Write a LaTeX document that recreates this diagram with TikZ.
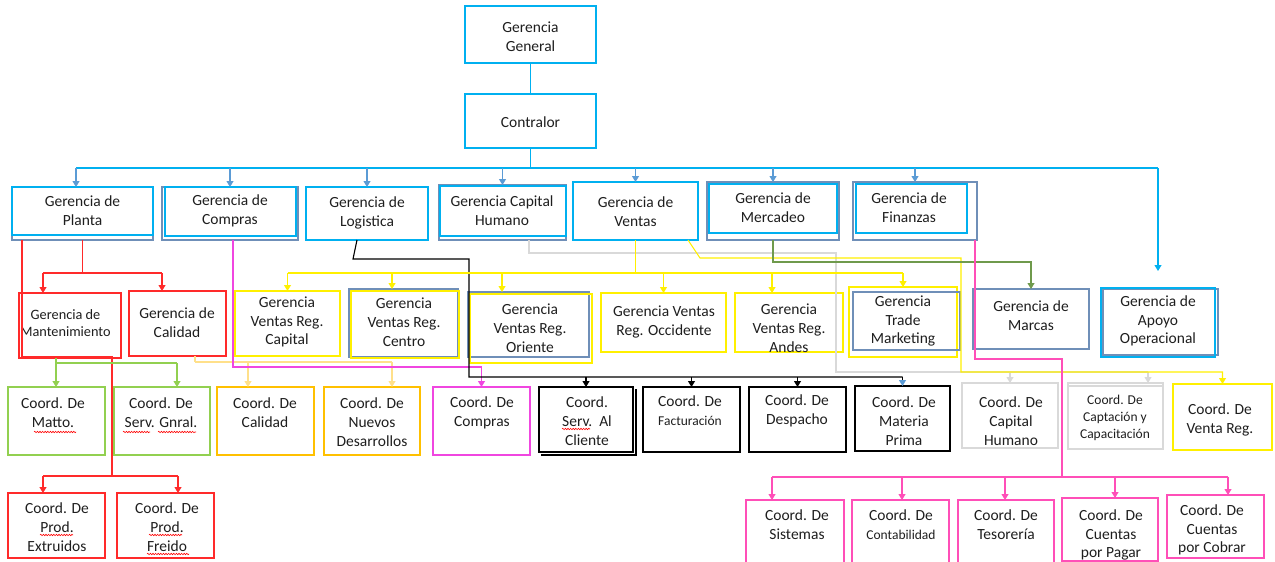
\documentclass[tikz,border=0pt]{standalone}
\usepackage{fontspec}
\setmainfont{Carlito}
\usetikzlibrary{arrows.meta,decorations.pathmorphing}
\definecolor{lb}{HTML}{00B0F0}
\definecolor{sb}{HTML}{6F8FB8}
\definecolor{db}{HTML}{5B9BD5}
\definecolor{rd}{HTML}{FF2A2A}
\definecolor{gr}{HTML}{92D050}
\definecolor{org}{HTML}{FFC000}
\definecolor{orl}{HTML}{FFE08A}
\definecolor{mg}{HTML}{F046E0}
\definecolor{pk}{HTML}{FF4FB8}
\definecolor{yl}{HTML}{FFF000}
\definecolor{lg}{HTML}{D9D9D9}
\definecolor{dg}{HTML}{6F9A4C}
\definecolor{tx}{HTML}{1E1E1E}
\newcommand\bx[6]{\node[box,draw=#6,anchor=north west,minimum width={(#4)-(#2)},minimum height={(#5)-(#3)}] (#1) at (#2,#3) {};}
\begin{document}
\begin{tikzpicture}[x=1pt,y=-1pt,
 box/.style={inner sep=0pt,outer sep=0pt,line width=1.2pt},
 txt/.style={inner sep=0pt,align=center,text=tx,font=\fontsize{15.5}{18.8}\selectfont},
 smt/.style={font=\fontsize{14.3}{17.5}\selectfont},
 ln/.style={line width=1.1pt},
 arr/.style={-{Triangle[width=7pt,length=6pt]}},
 wavy/.style={draw=red,line width=0.6pt,decorate,decoration={snake,amplitude=0.7pt,segment length=2.6pt}}]
\useasboundingbox (0,0) rectangle (1275,562);
% ---- boxes ----
\bx{gg}{465}{6}{596}{63}{lb}
\bx{ctr}{465}{94}{596}{148}{lb}
\bx{planta}{12}{187}{153}{240}{sb}
\bx{plantaI}{12}{187}{153}{235}{lb}
\bx{compras}{162}{187}{298}{240}{sb}
\bx{comprasI}{165}{187}{296}{236}{lb}
\bx{logistica}{306}{187}{428}{240}{lb}
\bx{caph}{439}{185}{566}{240}{sb}
\bx{caphI}{440}{186}{566}{236}{lb}
\bx{ventas}{573}{182}{698}{240}{lb}
\bx{mercadeo}{707}{182}{839}{240}{sb}
\bx{mercadeoI}{709}{184}{837}{233}{lb}
\bx{finanzas}{853}{182}{977}{240}{sb}
\bx{finanzasI}{856}{184}{967}{233}{lb}
%
\bx{mant}{19}{293}{121}{358}{rd}
\bx{calidadG}{129}{291}{226}{356}{rd}
\bx{capital}{235}{291}{340}{356}{yl}
\bx{centro}{349}{289}{458}{357}{sb}
\bx{centroY}{351}{291}{459}{358}{yl}
\bx{oriente}{468}{292}{589}{357}{sb}
\bx{orienteY}{470}{294}{592}{363}{yl}
\bx{occidente}{601}{293}{726}{352}{yl}
\bx{andes}{735}{293}{843}{352}{yl}
\bx{trade}{849}{287}{957}{357}{yl}
\bx{tradeB}{853}{292}{960}{350}{sb}
\bx{marcas}{973}{289}{1089}{349}{sb}
\bx{apoyoB}{1103}{289}{1218}{355}{sb}
\bx{apoyo}{1101}{288}{1215}{357}{lb}
%
\bx{matto}{8}{387}{105}{455}{gr}
\bx{serv}{114}{387}{210}{455}{gr}
\bx{calC}{217}{387}{314}{455}{org}
\bx{nuevos}{324}{387}{420}{455}{org}
\bx{comprasC}{433}{387}{530}{455}{mg}
\bx{cliente}{539}{387}{633}{452}{black}
\draw[line width=1.2pt] ([xshift=2,yshift=-3]cliente.south west) -| ([xshift=3,yshift=-2]cliente.north east);
\bx{fact}{643}{387}{740}{452}{black}
\bx{despacho}{749}{387}{846}{452}{black}
\bx{materia}{855}{386}{950}{451}{black}
\bx{caphC}{962}{383}{1058}{448}{lg}
\bx{captC}{1068}{383}{1163}{449}{lg}
\draw[line width=1.2pt,lg] ([yshift=-3]captC.north west) -- ([yshift=-3]captC.north east);
\bx{ventaRegC}{1173}{384}{1272}{450}{yl}
%
\bx{extr}{8}{493}{105}{558}{rd}
\bx{freido}{117}{493}{214}{558}{rd}
\bx{sist}{746}{500}{844}{566}{pk}
\bx{conta}{852}{500}{949}{566}{pk}
\bx{teso}{958}{500}{1054}{566}{pk}
\bx{pagar}{1062}{498}{1158}{561}{pk}
\bx{cobrar}{1167}{495}{1264}{558}{pk}
% ---- texts ----
\node[txt] (ggt) at (530.5,37) {Gerencia\\General};
\node[txt] (ctrt) at (530.5,122) {Contralor};
\node[txt] (plantat) at (82.5,211) {Gerencia de\\Planta};
\node[txt] (comprast) at (230,211) {Gerencia de\\Compras};
\node[txt] (logt) at (367,213) {Gerencia de\\Logistica};
\node[txt] (capht) at (502,211) {Gerencia Capital\\Humano};
\node[txt] (ventast) at (635.5,212) {Gerencia de\\Ventas};
\node[txt] (mercadeot) at (773,208) {Gerencia de\\Mercadeo};
\node[txt] (finanzast) at (909,208) {Gerencia de\\Finanzas};
\node[txt,smt] (mantt) at (65.5,323) {Gerencia de\\Mantenimiento};
\node[txt] (calidadGt) at (177,323) {Gerencia de\\Calidad};
\node[txt] (capitalt) at (287,322) {Gerencia\\Ventas Reg.\\Capital};
\node[txt] (centrot) at (404,322) {Gerencia\\Ventas Reg.\\Centro};
\node[txt] (orientet) at (530,328) {Gerencia\\Ventas Reg.\\Oriente};
\node[txt] (occidentet) at (664,322) {Gerencia Ventas\\Reg. Occidente};
\node[txt] (andest) at (789,328) {Gerencia\\Ventas Reg.\\Andes};
\node[txt] (tradet) at (903,321) {Gerencia\\Trade\\Marketing};
\node[txt] (marcast) at (1031,316) {Gerencia de\\Marcas};
\node[txt] (apoyot) at (1158,321) {Gerencia de\\Apoyo\\Operacional};
\node[txt] (mattot) at (53,413) {Coord. De\\Matto.};
\node[txt] (servt) at (161,413) {Coord. De\\Serv. Gnral.};
\node[txt] (calCt) at (265,413) {Coord. De\\Calidad};
\node[txt] (nuevost) at (372,422) {Coord. De\\Nuevos\\Desarrollos};
\node[txt] (comprasCt) at (482,413) {Coord. De\\Compras};
\node[txt] (clientet) at (587,421) {Coord.\\Serv.\ \ Al\\Cliente};
\node[txt] (factt) at (690,411) {Coord. De\\{\fontsize{13.5}{16}\selectfont Facturación}};
\node[txt] (despachot) at (797,411) {Coord. De\\Despacho};
\node[txt] (materiat) at (904,421) {Coord. De\\Materia\\Prima};
\node[txt] (caphCt) at (1011,421) {Coord. De\\Capital\\Humano};
\node[txt,font=\fontsize{13.5}{17}\selectfont] (captCt) at (1115,418) {Coord. De\\Captación y\\Capacitación};
\node[txt] (ventaRegCt) at (1220,420) {Coord. De\\Venta Reg.};
\node[txt] (extrt) at (57,527) {Coord. De\\Prod.\\Extruidos};
\node[txt] (freidot) at (167,527) {Coord. De\\Prod.\\Freido};
\node[txt] (sistt) at (797,525) {Coord. De\\Sistemas};
\node[txt] (contat) at (901,525) {Coord. De\\{\fontsize{13.5}{16}\selectfont Contabilidad}};
\node[txt] (tesot) at (1006,525) {Coord. De\\Tesorería};
\node[txt] (pagart) at (1111,535) {Coord. De\\Cuentas\\por Pagar};
\node[txt] (cobrart) at (1212,530) {Coord. De\\Cuentas\\por Cobrar};
% spelling underlines
\draw[wavy] (34,432) -- (76,432);
\draw[wavy] (123,432) -- (150,432);
\draw[wavy] (158,432) -- (196,432);
\draw[wavy] (562,429) -- (590,429);
\draw[wavy] (40,535) -- (73,535);
\draw[wavy] (149,535) -- (182,535);
\draw[wavy] (147,554) -- (189,554);
% ---- connectors ----
\draw[ln,lb] (gg.south) -- (ctr.north);
\coordinate (busL) at (76,168);
\coordinate (busR) at (1158,168);
\draw[ln,lb] (ctr.south) -- (ctr.south |- busL);
\draw[ln,lb] (busL) -- (busR);
\draw[ln,db,arr] (busL) -- (planta.north -| busL);
\foreach \n in {compras,logistica,caph,ventas,mercadeo,finanzas}
  \draw[ln,db,arr] (\n.north |- busL) -- (\n.north);
\coordinate (apoyoTip) at (1158,271);
\draw[ln,lb,arr] (busR) -- (apoyoTip);
% red from planta
\coordinate (rj) at (112,357);
\coordinate (rk) at (112,476);
\draw[ln,rd] ([xshift=10]planta.south west) |- (rj) -- (rk);
\path ([xshift=-13.5]extr.north) coordinate (tExtr) ([xshift=12.5]freido.north) coordinate (tFreido);
\draw[ln,rd] (rk -| tExtr) -- (rk -| tFreido);
\draw[ln,rd,arr] (rk -| tExtr) -- (tExtr);
\draw[ln,rd,arr] (rk -| tFreido) -- (tFreido);
\coordinate (rb) at (82,273);
\draw[ln,rd] (planta.south) -- (planta.south |- rb);
\path ([xshift=-27]mant.north) coordinate (tMant) ([xshift=-15.5]calidadG.north) coordinate (tCalG);
\draw[ln,rd] (rb -| tMant) -- (rb -| tCalG);
\draw[ln,rd,arr] (rb -| tMant) -- (tMant);
\draw[ln,rd,arr] (rb -| tCalG) -- (tCalG);
% green from mantenimiento
\coordinate (gj) at (56,363);
\draw[ln,gr] ([xshift=-14]mant.south) -- (gj);
\path ([xshift=15]serv.north) coordinate (tServ);
\draw[ln,gr] (gj) -- (gj -| tServ);
\draw[ln,gr,arr] (gj) -- (gj |- matto.north);
\draw[ln,gr,arr] (gj -| tServ) -- (tServ);
% orange from calidad
\coordinate (oj) at (195,362);
\draw[ln,orl] ([xshift=17.5]calidadG.south) -- (oj);
\path ([xshift=-17.5]calC.north) coordinate (tCalC) ([xshift=20]nuevos.north) coordinate (tNuevos);
\draw[ln,orl] (oj) -- (oj -| tNuevos);
\draw[ln,orl,arr] (oj -| tCalC) -- (tCalC);
\draw[ln,orl,arr] (oj -| tNuevos) -- (tNuevos);
% magenta from compras
\draw[ln,mg,arr] ([xshift=3]compras.south) |- ([yshift=20]comprasC.north) -- (comprasC.north);
% black from logistica
\coordinate (bk1) at (353,259);
\coordinate (bk2) at (469,377);
\draw[ln,black] ([xshift=-10]logistica.south) -- (bk1) -| (bk2) -- (materia.north |- bk2);
\foreach \n in {cliente,fact,despacho}
  \draw[ln,black,arr] (\n.north |- bk2) -- (\n.north);
\draw[ln,black,-{Triangle[width=7pt,length=6pt,color=db]}] (materia.north |- bk2) -- (materia.north);
% gray from capital humano
\coordinate (gy1) at (836,253);
\coordinate (gy2) at (836,372);
\path ([xshift=32.5]captC.north) coordinate (tCapt);
\draw[ln,lg] ([xshift=26.5]caph.south) |- (gy1) -- (gy2) -- (gy2 -| tCapt);
\draw[ln,lg,arr] (gy2 -| caphC.north) -- (caphC.north);
\draw[ln,lg,arr] (gy2 -| tCapt) -- (tCapt);
% yellow from ventas
\coordinate (yj) at (635,273);
\draw[ln,yl] (ventas.south) -- (ventas.south |- yj);
\path (capital.north) coordinate (tCap) ([xshift=-11.5]centro.north) coordinate (tCen)
  ([xshift=-26.5]oriente.north) coordinate (tOri) (occidente.north) coordinate (tOcc)
  ([xshift=-17]andes.north) coordinate (tAnd) (trade.north) coordinate (tTra);
\draw[ln,yl] (yj -| tCap) -- (yj -| tTra);
\foreach \t in {tCap,tCen,tOri,tOcc,tAnd,tTra}
  \draw[ln,yl,arr] (yj -| \t) -- (\t);
\coordinate (y1) at (700,258);
\coordinate (y2) at (961,372);
\draw[ln,yl,arr] ([xshift=52.5]ventas.south) -- (y1) -| (y2) -| (ventaRegC.north);
% green from mercadeo
\draw[ln,dg,arr] (mercadeo.south) |- ([yshift=27]marcas.north) -- (marcas.north);
% pink from finanzas
\coordinate (pk1) at (1062,359);
\coordinate (pk2) at (1062,477);
\draw[ln,pk] ([xshift=-2]finanzas.south east) |- (pk1) -- (pk2);
\path ([xshift=-23]sist.north) coordinate (tSis) ([xshift=1.5]conta.north) coordinate (tCon)
  ([xshift=-1]teso.north) coordinate (tTes) ([xshift=5]pagar.north) coordinate (tPag)
  ([xshift=12.5]cobrar.north) coordinate (tCob);
\draw[ln,pk] (pk2 -| tSis) -- (pk2 -| tCob);
\foreach \t in {tSis,tCon,tTes,tPag,tCob}
  \draw[ln,pk,arr] (pk2 -| \t) -- (\t);
\end{tikzpicture}
\end{document}
